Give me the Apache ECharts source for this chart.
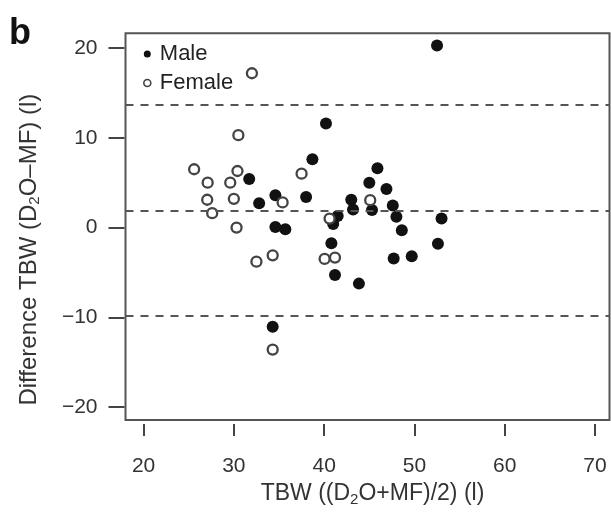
<!DOCTYPE html>
<html>
<head>
<meta charset="utf-8">
<script src="https://cdn.jsdelivr.net/npm/echarts@6/dist/echarts.min.js"></script>
<style>
  html, body { margin: 0; padding: 0; background: #ffffff; }
  #chart { width: 611px; height: 512px; }
</style>
</head>
<body>
<div id="chart"></div>
<script>
// Bland–Altman plot: mean TBW of both methods vs. their difference
const maleX = [31.7, 32.8, 34.6, 34.6, 35.7, 38.0, 38.7, 40.2, 34.3, 52.5,
               45.9, 45.0, 46.9, 43.0, 43.2, 45.3, 47.6, 48.0, 48.6, 53.0,
               52.6, 47.7, 49.7, 43.85, 41.2, 40.8, 41.5, 41.0];
const maleY = [5.4, 2.7, 3.6, 0.05, -0.2, 3.4, 7.6, 11.6, -11.05, 20.3,
               6.6, 5.0, 4.3, 3.1, 2.0, 1.95, 2.45, 1.2, -0.3, 1.0,
               -1.8, -3.45, -3.2, -6.25, -5.3, -1.75, 1.3, 0.4];

const femaleX = [25.6, 27.1, 30.4, 29.6, 27.05, 30.0, 27.6, 30.3, 32.5, 34.3,
                 35.4, 37.5, 32.0, 30.5, 34.3, 45.1, 40.05, 41.2, 40.6];
const femaleY = [6.5, 5.0, 6.3, 5.0, 3.1, 3.2, 1.6, 0.0, -3.8, -3.1,
                 2.8, 6.0, 17.2, 10.3, -13.6, 3.05, -3.5, -3.35, 1.0];

// mean difference and limits of agreement
const meanDiff = 1.9;
const limitsOfAgreement = [13.65, -9.85];

const xTicks = [20, 30, 40, 50, 60, 70];
const yTicks = [-20, -10, 0, 10, 20];

const toPairs = (xs, ys) => xs.map((x, i) => [x, ys[i]]);

const FONT = '"Liberation Sans", Arial, sans-serif';
const ink = '#333333';

const chart = echarts.init(document.getElementById('chart'), null, { renderer: 'canvas' });

chart.setOption({
  backgroundColor: '#ffffff',
  animation: false,
  textStyle: { fontFamily: FONT },
  graphic: [{
    type: 'text',
    left: 9,
    top: 16,
    style: { text: 'b', font: 'bold 36px ' + FONT, fill: '#111111' }
  }],
  grid: {
    left: 125.5,
    right: 1.5,
    top: 33.3,
    bottom: 89,
    show: true,
    borderColor: '#555555',
    borderWidth: 2,
    backgroundColor: 'transparent'
  },
  legend: {
    left: 138,
    top: 38,
    orient: 'vertical',
    itemGap: 7,
    itemWidth: 7,
    itemHeight: 7,
    textStyle: { fontSize: 22, color: '#222222', fontFamily: FONT, padding: [0, 0, 0, 4] },
    data: [
      { name: 'Male', icon: 'circle', itemStyle: { color: '#111111', borderWidth: 0 } },
      { name: 'Female', icon: 'circle', itemStyle: { color: '#ffffff', borderColor: '#444444', borderWidth: 1.6 } }
    ]
  },
  xAxis: {
    type: 'value',
    position: 'bottom',
    min: 18,
    max: 71.6,
    offset: 4,
    axisLine: { show: false, onZero: false },
    splitLine: { show: false },
    axisTick: { show: true, length: 12, customValues: xTicks, lineStyle: { color: '#444444', width: 2 } },
    axisLabel: { customValues: xTicks, margin: 32, fontSize: 21, color: ink, fontFamily: FONT },
    name: 'TBW ((D{sub|2}O+MF)/2) (l)',
    nameLocation: 'middle',
    nameGap: 57,
    nameTextStyle: {
      fontSize: 23, color: ink, fontFamily: FONT, padding: [0, 0, 0, 10],
      rich: { sub: { fontSize: 15, color: ink, padding: [11, 0, 0, 0] } }
    }
  },
  yAxis: {
    type: 'value',
    position: 'left',
    min: -21.45,
    max: 21.65,
    offset: 1,
    axisLine: { show: false, onZero: false },
    splitLine: { show: false },
    axisTick: { show: true, length: 16, customValues: yTicks, lineStyle: { color: '#444444', width: 2 } },
    axisLabel: {
      customValues: yTicks, margin: 27, fontSize: 21, color: ink, fontFamily: FONT,
      formatter: v => (v < 0 ? '\u2212' + Math.abs(v) : String(v))
    },
    name: 'Difference TBW (D{sub|2}O\u2013MF) (l)',
    nameLocation: 'middle',
    nameRotate: 90,
    nameGap: 82,
    nameTextStyle: {
      fontSize: 24, color: ink, fontFamily: FONT, padding: [0, 46, 0, 0],
      rich: { sub: { fontSize: 15, color: ink, padding: [11, 0, 0, 0] } }
    }
  },
  series: [
    {
      name: 'Male',
      type: 'scatter',
      symbol: 'circle',
      symbolSize: 12,
      itemStyle: { color: '#111111', opacity: 1 },
      data: toPairs(maleX, maleY),
      z: 3,
      markLine: {
        silent: true,
        symbol: 'none',
        label: { show: false },
        lineStyle: { color: '#555555', width: 2, type: [8, 7] },
        data: [{ yAxis: limitsOfAgreement[0] }, { yAxis: meanDiff }, { yAxis: limitsOfAgreement[1] }]
      }
    },
    {
      name: 'Female',
      type: 'scatter',
      symbol: 'circle',
      symbolSize: 10,
      itemStyle: { color: '#ffffff', borderColor: '#444444', borderWidth: 2.3, opacity: 1 },
      data: toPairs(femaleX, femaleY),
      z: 4
    }
  ]
});
</script>
</body>
</html>
